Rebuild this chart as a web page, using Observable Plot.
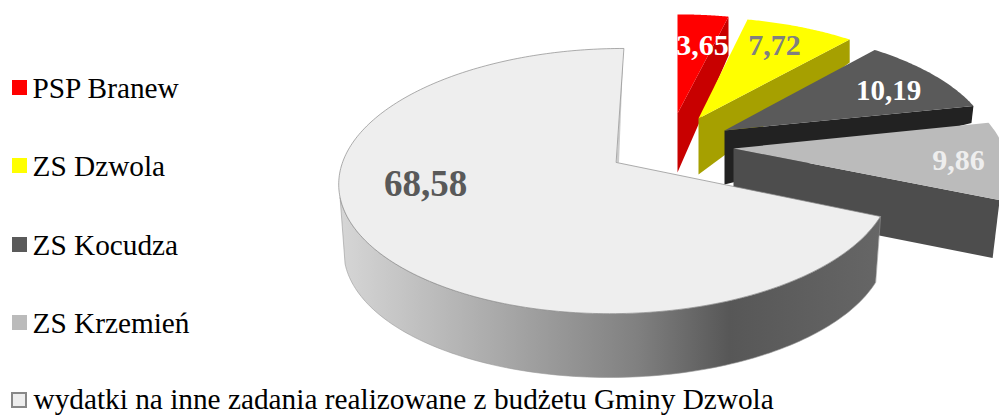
<!DOCTYPE html>
<html><head><meta charset="utf-8">
<script src="https://cdn.jsdelivr.net/npm/d3@7"></script>
<script src="https://cdn.jsdelivr.net/npm/@observablehq/plot@0.6"></script>
<style>html,body{margin:0;padding:0;background:#fff}svg{display:block}</style>
</head><body><div id="c"></div>
<script>
const categories = ["PSP Branew","ZS Dzwola","ZS Kocudza","ZS Krzemień","wydatki na inne zadania realizowane z budżetu Gminy Dzwola"];
const values = [3.65,7.72,10.19,9.86,68.58];
const labels = ["3,65","7,72","10,19","9,86","68,58"];

const faceColors = ["#ff0000","#ffff00","#5a5a5a","#bbbbbb","#eeeeee"];
const wallColors = ["#c80000","#a6a000","#222222","#4d4d4d","url(#wallGrad)"];
const labelColors = ["#ffffff","#808080","#ffffff","#eeeeee","#595959"];
const labelPos = [[702,45],[774,45],[888,90],[958,160],[425,184]];
const labelSize = [30,30,29,30,37];
// perspective layout of each exploded slice
const layout = [
  {cx:677,cy:113,R:255,A:113,s:0, d0:59,d1:39,ins:0},
  {cx:698,cy:118,R:258.7,A:115.5,s:-2.8,d0:56,d1:23,ins:0},
  {cx:724,cy:130,R:264.5,A:118,s:-8.7,d0:54,d1:17,ins:2},
  {cx:733,cy:148,R:270.5,A:124,s:-7.3, d0:58,d1:58,ins:7},
  {cx:616,cy:162,R:274,A:130,s:7}
];
const k = 0.14;
const total = d3.sum(values);
const cum = d3.cumsum(values);
const ang = i => [(i ? cum[i-1] : 0)/total*2*Math.PI, cum[i]/total*2*Math.PI];
const pt = (L,t) => {
  const u = Math.sin(t), v = Math.cos(t), w = 1 + k*v;
  return {x: L.cx + L.R*u/w + L.s*v, y: L.cy - L.A*v/w};
};
const arc = (L,a,b,n=60) => d3.range(n+1).map(i => pt(L, a+(b-a)*i/n));
const poly = (pts,fill,stroke="none",sw=0.8) => Plot.line(pts,{x:"x",y:"y",fill,stroke,strokeWidth:sw,curve:"linear-closed"});

const marks = [];
marks.push(() => {
  const defs = d3.create("svg:defs");
  const g = defs.append("linearGradient").attr("id","wallGrad").attr("gradientUnits","userSpaceOnUse")
    .attr("x1",340).attr("x2",880).attr("y1",0).attr("y2",0);
  [[0,"#d6d6d6"],[0.3,"#a8a8a8"],[0.55,"#808080"],[0.72,"#575757"],[1,"#666666"]]
    .forEach(([o,c]) => g.append("stop").attr("offset",o).attr("stop-color",c));
  return defs.node();
});
for (let i=0;i<4;i++){
  const L = layout[i], [a,b] = ang(i), rim = pt(L,b), apex = {x:L.cx,y:L.cy};
  marks.push(poly([apex,rim,{x:rim.x-L.ins,y:rim.y+L.d1},{x:apex.x,y:apex.y+L.d0}],wallColors[i]));
  marks.push(poly([apex,...arc(L,a,b)],faceColors[i]));
}
// main slice
const M = layout[4], [ma,mb] = ang(4);
const wallEnd = 255/180*Math.PI;
const bottom = {cx:616,cy:229.3,R:269,A:127,s:7};
marks.push(poly([...arc(M,ma,wallEnd,120),...arc(bottom,wallEnd,ma,120)],wallColors[4],"#999",0.6));
const mApex = {x:M.cx,y:M.cy};
marks.push(poly([{x:mApex.x+2.5,y:mApex.y},pt(M,mb),mApex],"#cccccc"));
marks.push(poly([mApex,...arc(M,ma,mb,240)],faceColors[4],"#8a8a8a",0.7));
// value labels
marks.push(Plot.text(values.map((_,i)=>i),{
  x:i=>labelPos[i][0],y:i=>labelPos[i][1],text:i=>labels[i],fill:i=>labelColors[i],fontSize:i=>labelSize[i],
  fontWeight:"bold",fontFamily:"Liberation Serif",textAnchor:"middle",lineAnchor:"middle"}));
// legend
const legendY = [88,166,245,323,399.5];
const legendFill = faceColors;
for (let i=0;i<4;i++){
  marks.push(Plot.rect([i],{x1:12,x2:27,y1:legendY[i]-8,y2:legendY[i]+7,fill:legendFill[i]}));
}
marks.push(Plot.rect([4],{x1:12,x2:26,y1:393,y2:407,fill:legendFill[4],stroke:"#888",strokeWidth:2}));
marks.push(Plot.text(categories,{x:(d,i)=>i==4?33:32,y:(d,i)=>legendY[i],text:d=>d,fontSize:29.3,
  fontFamily:"Liberation Serif",fill:"#000",textAnchor:"start",lineAnchor:"middle"}));

const chart = Plot.plot({
  width:999,height:415,margin:0,
  x:{type:"linear",domain:[0,999],range:[0,999],axis:null},
  y:{type:"linear",domain:[0,415],range:[0,415],axis:null},
  color:{type:"identity"},
  style:{background:"#fff"},
  marks
});
document.getElementById("c").append(chart);
</script>
</body></html>
